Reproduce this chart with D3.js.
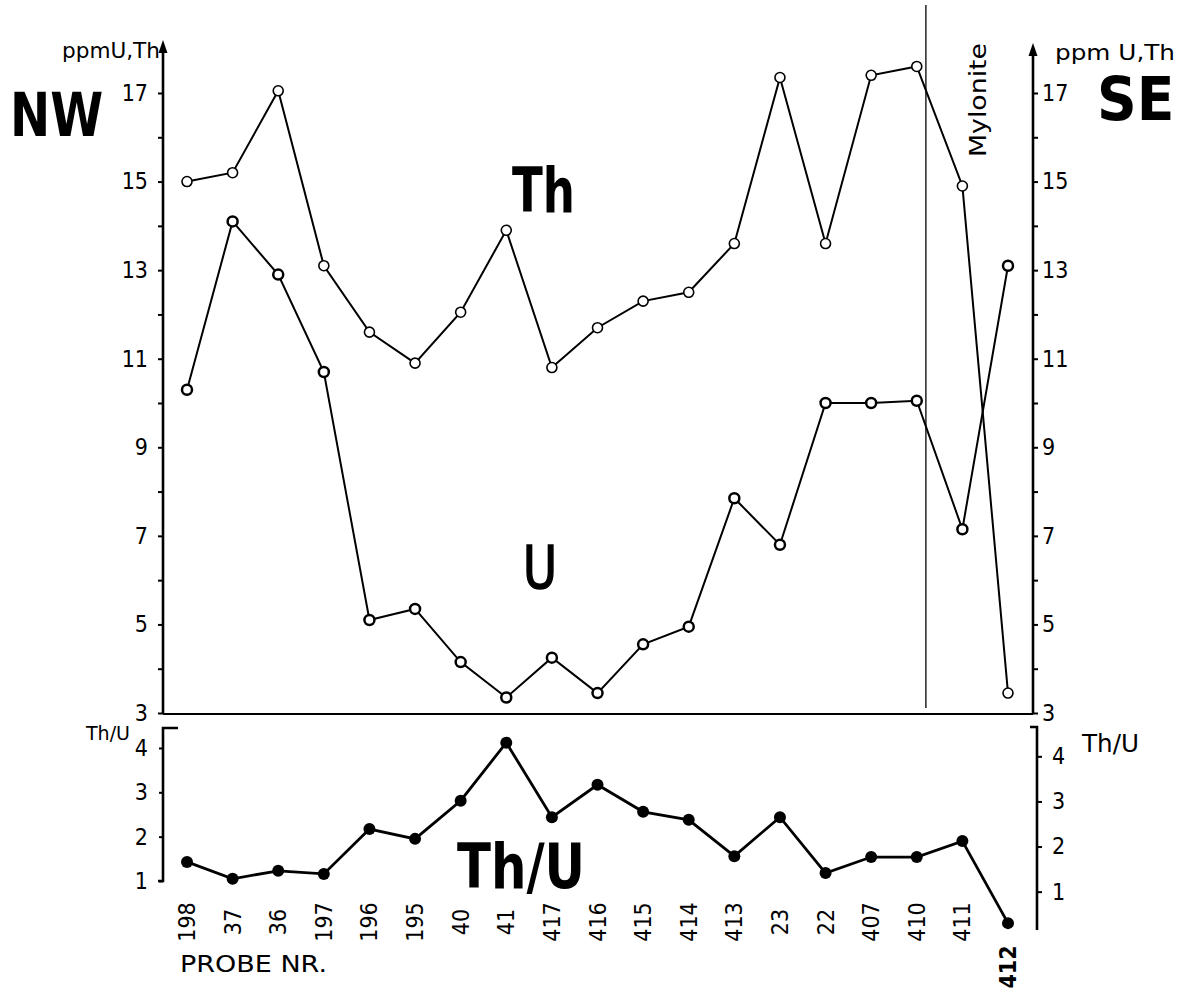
<!DOCTYPE html>
<html>
<head>
<meta charset="utf-8">
<script src="https://cdn.jsdelivr.net/npm/d3@7"></script>
<style>
  body { margin: 0; background: #fff; }
  svg { display: block; }
</style>
</head>
<body>
<div class="chart"></div>
<script>
// sample numbers along the NW-SE profile
const probes = ["198","37","36","197","196","195","40","41","417","416","415","414","413","23","22","407","410","411","412"];
// ppm values
const thorium = [15.0,15.2,17.05,13.1,11.6,10.9,12.05,13.9,10.8,11.7,12.3,12.5,13.6,17.35,13.6,17.4,17.6,14.9,3.45];
const uranium = [10.3,14.1,12.9,10.7,5.1,5.35,4.15,3.35,4.25,3.45,4.55,4.95,7.85,6.8,10.0,10.0,10.05,7.15,13.1];
const ratio = [1.43,1.05,1.23,1.16,2.17,1.95,2.81,4.12,2.44,3.17,2.56,2.38,1.56,2.44,1.18,1.54,1.54,1.90,0.05];
// tick labels
const ppmTicks = [3,5,7,9,11,13,15,17];
const ratioTicks = [1,2,3,4];

const width = 1185, height = 992;
const leftX = 163, rightX = 1033, rightX2 = 1037;
const numFont = "DejaVu Sans Condensed";

const svg = d3.select('.chart').append('svg')
  .attr('width', width).attr('height', height);

const x = d3.scalePoint().domain(probes).range([187, 1008]);
const y = d3.scaleLinear().domain([3, 17]).range([713, 93]);
const yr = d3.scaleLinear().domain([1, 4.45]).range([881, 728]);
// right Th/U axis is printed a little lower than the left one
const yr2 = d3.scaleLinear().domain([0.15, 4.65]).range([930, 727]);

function styleAxis(g, size) {
  g.select(".domain").remove();
  g.selectAll(".tick line").attr("stroke", "#000").attr("stroke-width", 2);
  g.selectAll(".tick text")
    .attr("font-family", numFont)
    .attr("font-size", size)
    .attr("fill", "#000");
}

// top left axis
svg.append("g")
  .attr("transform", `translate(${leftX},0)`)
  .call(d3.axisLeft(y).tickValues(d3.range(3, 18)).tickSize(5).tickPadding(10)
    .tickFormat(d => ppmTicks.includes(d) ? d : ""))
  .call(g => styleAxis(g, 23));

// top right axis
svg.append("g")
  .attr("transform", `translate(${rightX},0)`)
  .call(d3.axisRight(y).tickValues(d3.range(3, 18)).tickSize(5).tickPadding(4)
    .tickFormat(d => ppmTicks.includes(d) ? d : ""))
  .call(g => styleAxis(g, 23));

// axis lines with arrows
[[leftX, 40], [rightX, 43]].forEach(([ax, top]) => {
  svg.append("line")
    .attr("x1", ax).attr("x2", ax)
    .attr("y1", y(3) + 1).attr("y2", top + 8)
    .attr("stroke", "#000").attr("stroke-width", 2.6);
  svg.append("path")
    .attr("d", `M${ax},${top} L${ax - 4.5},${top + 13} L${ax + 4.5},${top + 13} Z`)
    .attr("fill", "#000");
});

// top panel baseline
svg.append("line")
  .attr("x1", leftX).attr("x2", rightX)
  .attr("y1", y(3) + 1).attr("y2", y(3) + 1)
  .attr("stroke", "#000").attr("stroke-width", 2);

// Th/U left axis
svg.append("g")
  .attr("transform", `translate(${leftX},0)`)
  .call(d3.axisLeft(yr).tickValues(ratioTicks).tickSize(4).tickPadding(11)
    .tickFormat(d3.format("d")))
  .call(g => styleAxis(g, 23));
svg.append("path")
  .attr("d", `M${leftX - 5},${yr(1)} H${leftX} V${yr.range()[1]} H${leftX + 15}`)
  .attr("fill", "none").attr("stroke", "#000").attr("stroke-width", 2.6);

// Th/U right axis
svg.append("g")
  .attr("transform", `translate(${rightX2},0)`)
  .call(d3.axisRight(yr2).tickValues(ratioTicks).tickSize(5).tickPadding(10)
    .tickFormat(d3.format("d")))
  .call(g => styleAxis(g, 23));
svg.append("path")
  .attr("d", `M${rightX2},${yr2.range()[0]} V${yr2.range()[1]} H${rightX2 - 7}`)
  .attr("fill", "none").attr("stroke", "#000").attr("stroke-width", 2.6);

// Mylonite boundary
const mylX = x("410") + x.step() * 0.2;
svg.append("line")
  .attr("x1", mylX).attr("x2", mylX)
  .attr("y1", 5).attr("y2", 708)
  .attr("stroke", "#000").attr("stroke-width", 1.3);
svg.append("text")
  .attr("transform", `translate(${mylX + 60},100) rotate(-90)`)
  .attr("text-anchor", "middle")
  .attr("font-family", "DejaVu Sans").attr("font-size", 23)
  .attr("textLength", 114).attr("lengthAdjust", "spacingAndGlyphs")
  .text("Mylonite");

// data lines
const line = d3.line().x((d, i) => x(probes[i])).y(d => y(d));
const ratioLine = d3.line().x((d, i) => x(probes[i])).y(d => yr(d));

svg.append("path").attr("d", line(thorium))
  .attr("fill", "none").attr("stroke", "#000").attr("stroke-width", 2);
svg.append("path").attr("d", line(uranium))
  .attr("fill", "none").attr("stroke", "#000").attr("stroke-width", 2);
svg.append("path").attr("d", ratioLine(ratio))
  .attr("fill", "none").attr("stroke", "#000").attr("stroke-width", 2.8);

svg.selectAll(".th").data(thorium).enter().append("circle")
  .attr("class", "th")
  .attr("cx", (d, i) => x(probes[i])).attr("cy", d => y(d))
  .attr("r", 5).attr("fill", "#fff").attr("stroke", "#000").attr("stroke-width", 1.6);

svg.selectAll(".u").data(uranium).enter().append("circle")
  .attr("class", "u")
  .attr("cx", (d, i) => x(probes[i])).attr("cy", d => y(d))
  .attr("r", 5).attr("fill", "#fff").attr("stroke", "#000").attr("stroke-width", 2.5);

svg.selectAll(".ratio").data(ratio).enter().append("circle")
  .attr("class", "ratio")
  .attr("cx", (d, i) => x(probes[i])).attr("cy", d => yr(d))
  .attr("r", 6).attr("fill", "#000");

// probe labels
svg.selectAll(".probe").data(probes).enter().append("text")
  .attr("class", "probe")
  .attr("transform", d => `translate(${x(d)},${d === "412" ? 967 : 922}) rotate(-90)`)
  .attr("text-anchor", "middle")
  .attr("dominant-baseline", "central")
  .attr("font-family", numFont)
  .attr("font-size", 23)
  .attr("font-weight", d => d === "412" ? "bold" : "normal")
  .text(d => d);

// other texts
function label(txt, tx, ty, size, len, opts = {}) {
  return svg.append("text")
    .attr("x", tx).attr("y", ty)
    .attr("font-family", opts.family || "DejaVu Sans")
    .attr("font-size", size)
    .attr("font-weight", opts.weight || "normal")
    .attr("textLength", len).attr("lengthAdjust", "spacingAndGlyphs")
    .text(txt);
}

// big side letters, squeezed with a transform so their box stays narrow
function bigLabel(txt, tx, ty, sx) {
  svg.append("text")
    .attr("transform", `translate(${tx},${ty}) scale(${sx},1)`)
    .attr("font-family", "DejaVu Sans")
    .attr("font-size", 60)
    .attr("font-weight", "bold")
    .text(txt);
}

label("ppmU,Th", 62, 58, 21, 98);
label("ppm U,Th", 1055, 60, 22, 120);
bigLabel("NW", 10, 136, 0.8);
bigLabel("SE", 1097, 120, 0.92);
label("Th", 512, 212, 62, 63, { weight: "bold", family: "DejaVu Sans Condensed" });
label("U", 523, 588, 59, 34, { family: "DejaVu Sans Condensed" })
  .attr("stroke", "#000").attr("stroke-width", 1.6);
label("Th/U", 457, 888, 62, 128, { weight: "bold", family: "DejaVu Sans Condensed" });
label("Th/U", 86, 740, 20, 44);
label("Th/U", 1082, 752, 25, 57, { family: "DejaVu Sans Condensed" });
label("PROBE NR.", 180, 972, 23, 147);
</script>
</body>
</html>
